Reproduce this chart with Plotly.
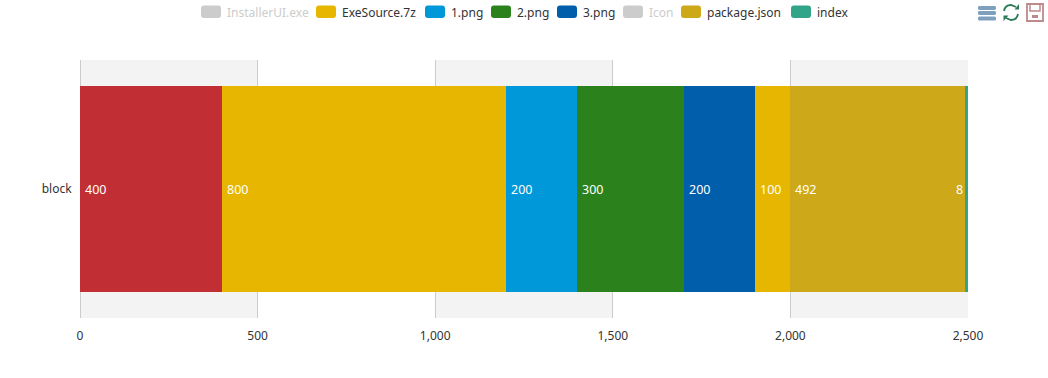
import plotly.graph_objects as go

# ---- data ----
category = ["block"]
series_names = ["InstallerUI.exe", "ExeSource.7z", "1.png", "2.png", "3.png", "Icon", "package.json", "index"]
series_values = [400, 800, 200, 300, 200, 100, 492, 8]
bar_colors = ["#c12e34", "#e6b600", "#0098d9", "#2b821d", "#005eaa", "#e6b600", "#cda819", "#32a487"]
legend_colors = ["#cccccc", "#e6b600", "#0098d9", "#2b821d", "#005eaa", "#cccccc", "#cda819", "#32a487"]
legend_text_colors = ["#cccccc", "#333333", "#333333", "#333333", "#333333", "#cccccc", "#333333", "#333333"]
x_ticks = [0, 500, 1000, 1500, 2000, 2500]
x_tick_labels = ["0", "500", "1,000", "1,500", "2,000", "2,500"]

# ---- layout constants ----
W, H = 1048, 378
ML, MR, MT, MB = 80, 80, 60, 60
FONT = "Noto Sans"
legend_swatch_left = [201, 316, 425, 491, 557, 623, 681, 791]


def px(x):
    return (x - ML) / (W - ML - MR)


def py(y):
    return 1 - (y - MT) / (H - MT - MB)


def pt(x, y):
    return f"{px(x):.5f},{py(y):.5f}"


def rrect(x0, y0, x1, y1, r):
    return (
        f"M{pt(x0 + r, y0)} L{pt(x1 - r, y0)} Q{pt(x1, y0)} {pt(x1, y0 + r)} "
        f"L{pt(x1, y1 - r)} Q{pt(x1, y1)} {pt(x1 - r, y1)} "
        f"L{pt(x0 + r, y1)} Q{pt(x0, y1)} {pt(x0, y1 - r)} "
        f"L{pt(x0, y0 + r)} Q{pt(x0, y0)} {pt(x0 + r, y0)} Z"
    )


fig = go.Figure()
for name, val, col in zip(series_names, series_values, bar_colors):
    fig.add_trace(go.Bar(
        name=name, y=category, x=[val], orientation="h",
        marker=dict(color=col, line=dict(width=0)),
        showlegend=False, hoverinfo="x+name",
    ))

shapes = []
annotations = []

# alternating split areas, from the tick values
for i in range(len(x_ticks) - 1):
    shapes.append(dict(
        type="rect", layer="below", xref="x", yref="paper",
        x0=x_ticks[i], x1=x_ticks[i + 1], y0=0, y1=1,
        fillcolor="#f3f3f3" if i % 2 == 0 else "#ffffff", line_width=0,
    ))

# value labels: anchored at the base of each stacked segment
running = 0
for i, val in enumerate(series_values):
    last = i == len(series_values) - 1
    annotations.append(dict(
        x=running, y=category[0], xref="x", yref="y",
        text=str(val), showarrow=False,
        xanchor="right" if last else "left", xshift=0 if last else 3,
        yshift=0,
        font=dict(color="#ffffff", size=12.5, family=FONT),
    ))
    running += val

# legend
for name, left, col, tcol in zip(series_names, legend_swatch_left, legend_colors, legend_text_colors):
    shapes.append(dict(
        type="path", xref="paper", yref="paper",
        path=rrect(left, 5.5, left + 20, 18, 3), fillcolor=col, line_width=0,
    ))
    annotations.append(dict(
        x=px(left + 25), y=py(12), xref="paper", yref="paper",
        text=name, showarrow=False, xanchor="left", yanchor="middle",
        xshift=-1.5,
        font=dict(color=tcol, size=12, family=FONT),
    ))

# toolbox: stack icon
for y0 in (6, 11, 16.5):
    shapes.append(dict(
        type="path", xref="paper", yref="paper",
        path=rrect(978, y0, 996, y0 + 4, 1.5), fillcolor="#7f9fbf", line_width=0,
    ))
# toolbox: refresh icon
green = "#2a7a58"
shapes.append(dict(
    type="path", xref="paper", yref="paper",
    path=f"M{pt(1004, 11)} Q{pt(1005, 5)} {pt(1011, 5)} L{pt(1016, 7)}",
    line=dict(color=green, width=1.8),
))
shapes.append(dict(
    type="path", xref="paper", yref="paper",
    path=f"M{pt(1018, 14)} Q{pt(1017, 20)} {pt(1011, 20)} L{pt(1006, 18)}",
    line=dict(color=green, width=1.8),
))
shapes.append(dict(
    type="path", xref="paper", yref="paper",
    path=f"M{pt(1014.5, 9.5)} L{pt(1019, 9.5)} L{pt(1019, 4)} Z",
    fillcolor=green, line_width=0,
))
shapes.append(dict(
    type="path", xref="paper", yref="paper",
    path=f"M{pt(1008.5, 15.5)} L{pt(1003.5, 15.5)} L{pt(1003.5, 21)} Z",
    fillcolor=green, line_width=0,
))
# toolbox: save icon
red = "#bd8a8c"
shapes.append(dict(
    type="path", xref="paper", yref="paper",
    path=f"M{pt(1027, 4)} L{pt(1043, 4)} L{pt(1043, 21)} L{pt(1027, 21)} Z",
    line=dict(color=red, width=1.8),
))
shapes.append(dict(
    type="path", xref="paper", yref="paper",
    path=f"M{pt(1030, 4)} L{pt(1030, 11)} L{pt(1040, 11)} L{pt(1040, 4)}",
    line=dict(color=red, width=1.5),
))
shapes.append(dict(
    type="path", xref="paper", yref="paper",
    path=f"M{pt(1032, 15)} L{pt(1038, 15)} L{pt(1038, 18)} L{pt(1032, 18)} Z",
    fillcolor=red, line_width=0,
))

fig.update_layout(
    width=W, height=H, autosize=False,
    margin=dict(l=ML, r=MR, t=MT, b=MB, pad=0),
    barmode="stack", bargap=0.2,
    paper_bgcolor="#ffffff", plot_bgcolor="#ffffff",
    font=dict(family=FONT, size=12, color="#333333"),
    showlegend=False, shapes=shapes, annotations=annotations,
    xaxis=dict(
        range=[x_ticks[0], x_ticks[-1]], tickmode="array",
        tickvals=x_ticks, ticktext=x_tick_labels,
        showgrid=True, gridcolor="#cccccc", gridwidth=1,
        zeroline=True, zerolinecolor="#cccccc", zerolinewidth=1,
        showline=False, ticks="outside", ticklen=7, tickcolor="rgba(0,0,0,0)",
        tickfont=dict(size=12, color="#333333", family=FONT),
    ),
    yaxis=dict(
        showgrid=False, zeroline=False, showline=False,
        ticks="outside", ticklen=5, tickcolor="rgba(0,0,0,0)",
        tickfont=dict(size=12, color="#333333", family=FONT),
    ),
)

fig.write_html(
    "out.html", config=dict(displayModeBar=False),
    post_script="document.body.style.margin='0';document.body.style.overflow='hidden';",
)
